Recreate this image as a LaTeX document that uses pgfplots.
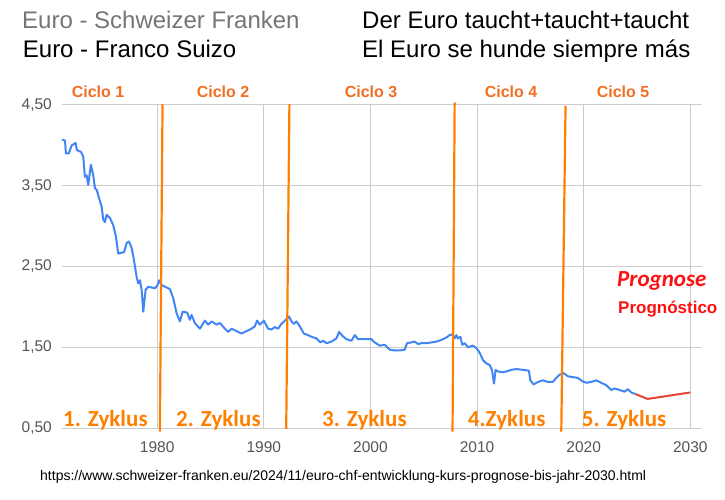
\documentclass[border=0pt]{standalone}
\usepackage{fontspec}
\setmainfont{Liberation Sans}
\newfontfamily\calibri{Carlito}
\usepackage{pgfplots}
\pgfplotsset{compat=1.18}
\definecolor{gblue}{HTML}{4285F4}
\definecolor{gred}{HTML}{E8433A}
\definecolor{orline}{HTML}{FF8000}
\definecolor{ortext}{HTML}{F26E22}
\definecolor{gridc}{HTML}{CCCCCC}
\definecolor{tickc}{HTML}{555555}
\definecolor{titlegray}{HTML}{757575}
\definecolor{progred}{HTML}{FF1010}
\newcommand\fs[1]{\fontsize{#1bp}{#1bp}\selectfont}

\pgfplotstableread{
x y
1971.07 4.07
1971.35 4.06
1971.44 3.90
1971.70 3.90
1971.98 4.00
1972.35 4.03
1972.47 3.94
1972.85 3.92
1973.06 3.86
1973.22 3.61
1973.38 3.63
1973.53 3.51
1973.78 3.76
1974.00 3.63
1974.16 3.47
1974.32 3.45
1974.56 3.34
1974.79 3.24
1974.94 3.08
1975.10 3.05
1975.26 3.14
1975.57 3.10
1975.88 3.01
1976.13 2.87
1976.34 2.66
1976.66 2.67
1976.90 2.68
1977.13 2.79
1977.35 2.81
1977.60 2.73
1977.82 2.58
1978.07 2.37
1978.22 2.29
1978.38 2.33
1978.54 2.21
1978.69 1.94
1978.91 2.21
1979.16 2.25
1979.48 2.24
1979.78 2.23
1980.00 2.26
1980.19 2.33
1980.41 2.27
1980.72 2.25
1981.19 2.22
1981.50 2.11
1981.82 1.92
1982.13 1.82
1982.38 1.94
1982.81 1.93
1983.06 1.84
1983.22 1.90
1983.53 1.80
1984.00 1.73
1984.47 1.83
1984.78 1.78
1985.10 1.82
1985.57 1.78
1985.88 1.80
1986.35 1.73
1986.66 1.69
1986.97 1.73
1987.44 1.70
1987.91 1.67
1988.38 1.70
1988.85 1.73
1989.16 1.76
1989.37 1.83
1989.63 1.78
1990.00 1.83
1990.40 1.73
1990.72 1.72
1991.03 1.75
1991.34 1.73
1991.66 1.79
1992.06 1.84
1992.37 1.88
1992.60 1.82
1992.81 1.79
1993.06 1.82
1993.37 1.76
1993.75 1.67
1994.15 1.65
1994.47 1.63
1994.94 1.61
1995.31 1.56
1995.56 1.58
1995.88 1.55
1996.35 1.57
1996.81 1.61
1997.06 1.69
1997.38 1.64
1997.75 1.60
1998.22 1.58
1998.53 1.65
1998.84 1.60
1999.47 1.60
2000.09 1.60
2000.40 1.56
2000.87 1.52
2001.34 1.53
2001.81 1.47
2002.28 1.46
2002.75 1.46
2003.22 1.47
2003.43 1.55
2003.84 1.56
2004.15 1.57
2004.46 1.54
2004.78 1.55
2005.25 1.55
2005.72 1.56
2006.19 1.57
2006.65 1.59
2007.12 1.62
2007.43 1.65
2007.68 1.66
2007.90 1.61
2008.06 1.65
2008.20 1.61
2008.43 1.63
2008.62 1.53
2008.84 1.55
2009.15 1.50
2009.62 1.52
2009.93 1.49
2010.25 1.43
2010.56 1.34
2010.87 1.30
2011.18 1.28
2011.40 1.22
2011.59 1.05
2011.74 1.22
2011.96 1.20
2012.43 1.19
2012.75 1.20
2013.22 1.22
2013.69 1.23
2014.30 1.22
2014.86 1.21
2015.00 1.09
2015.30 1.04
2015.71 1.07
2016.18 1.09
2016.65 1.07
2017.11 1.07
2017.43 1.12
2017.74 1.16
2018.12 1.18
2018.52 1.14
2018.99 1.13
2019.46 1.12
2019.87 1.08
2020.25 1.06
2020.70 1.07
2021.18 1.09
2021.65 1.06
2022.12 1.03
2022.59 0.97
2022.90 0.99
2023.37 0.97
2023.83 0.95
2024.14 0.98
2024.46 0.94
2024.86 0.92
}\eurchf

\pgfplotstableread{
x y
2024.86 0.92
2026.00 0.86
2030.00 0.94
}\prognose

\begin{document}
\begin{tikzpicture}
\begin{scope}[x=1bp,y=-1bp,shift={(-62bp,428bp)}]
\path[use as bounding box] (0,0) rectangle (725,500);
\end{scope}
\begin{axis}[
 scale only axis, width=640bp, height=323bp,
 at={(0,0)}, anchor=south west,
 xmin=1971.07, xmax=2031.1, ymin=0.5, ymax=4.5,
 clip=false,
 axis line style={draw=none},
 major tick length=0pt,
 xtick={1980,1990,2000,2010,2020,2030},
 ytick={0.5,1.5,2.5,3.5,4.5},
 grid=major,
 grid style={gridc, line width=1bp},
 scaled y ticks=false,
 /pgf/number format/assume math mode=true,
 xticklabel style={font=\fs{15.5}, text=tickc, inner sep=0pt, anchor=north, yshift=-13.5bp, /pgf/number format/1000 sep={}},
 yticklabel style={font=\fs{15.5}, text=tickc, inner sep=0pt, anchor=east, xshift=-10bp, /pgf/number format/.cd, fixed, fixed zerofill, precision=2, use comma},
]
\addplot[gblue, line width=2bp, line join=round] table[x=x,y=y] {\eurchf};
\addplot[gred, line width=2bp, line join=round] table[x=x,y=y] {\prognose};
\addplot[orline, line width=2.2bp] coordinates {(1980.50,4.51) (1980.25,0.455)};
\addplot[orline, line width=2.2bp] coordinates {(1992.40,4.51) (1992.10,0.49)};
\addplot[orline, line width=2.2bp] coordinates {(2007.90,4.53) (2007.70,0.455)};
\addplot[orline, line width=2.2bp] coordinates {(2018.30,4.49) (2017.90,0.455)};
\end{axis}
\begin{scope}[x=1bp,y=-1bp,shift={(-62bp,428bp)}]
\node[anchor=base west, inner sep=0, text=titlegray, font=\fs{24}] at (22,28.3) {Euro - Schweizer Franken};
\node[anchor=base west, inner sep=0, font=\fs{24}] at (22.7,57.3) {Euro - Franco Suizo};
\node[anchor=base west, inner sep=0, font=\fs{24}] at (362,28.3) {Der Euro taucht+taucht+taucht};
\node[anchor=base west, inner sep=0, font=\fs{24}] at (362,57.3) {El Euro se hunde siempre más};
\foreach \xx/\lab in {98/Ciclo 1, 223/Ciclo 2, 371/Ciclo 3, 511/Ciclo 4, 623/Ciclo 5}
  \node[anchor=base, inner sep=0, text=ortext, font=\fs{16}\bfseries] at (\xx,97.3) {\lab};
\foreach \xx/\lab in {63/1. Zyklus, 176/2. Zyklus, 322/3. Zyklus, 467.7/4.Zyklus, 581.7/5. Zyklus}
  \node[anchor=base west, inner sep=0, text=orline, font=\calibri\fs{23}\bfseries] at (\xx,426.7) {\lab};
\node[anchor=base west, inner sep=0, text=progred, font=\calibri\fs{23}\bfseries\itshape] at (617,287) {Prognose};
\node[anchor=base west, inner sep=0, text=progred, font=\fs{17}\bfseries] at (618,313.3) {Prognóstico};
\node[anchor=base west, inner sep=0, font=\fs{14}] at (40,481) {https://www.schweizer-franken.eu/2024/11/euro-chf-entwicklung-kurs-prognose-bis-jahr-2030.html};
\end{scope}
\end{tikzpicture}
\end{document}
